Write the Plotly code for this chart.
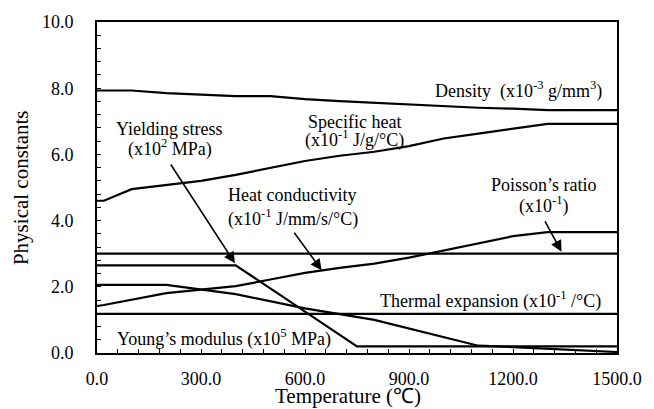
import plotly.graph_objects as go

# Temperature-dependent physical constants of steel
temp_density = [0, 100, 200, 300, 400, 500, 600, 700, 800, 900, 1000, 1100, 1200, 1300, 1500]
density = [7.93, 7.93, 7.85, 7.80, 7.76, 7.76, 7.67, 7.61, 7.56, 7.52, 7.45, 7.41, 7.38, 7.34, 7.34]

temp_heat = [0, 20, 100, 200, 300, 400, 500, 600, 700, 800, 900, 1000, 1100, 1200, 1300, 1500]
specific_heat = [4.60, 4.60, 4.95, 5.08, 5.20, 5.38, 5.60, 5.80, 5.96, 6.08, 6.25, 6.48, 6.63, 6.78, 6.92, 6.92]

temp_cond = [0, 20, 200, 300, 400, 500, 600, 700, 800, 900, 1000, 1100, 1200, 1300, 1500]
conductivity = [1.42, 1.45, 1.81, 1.92, 2.02, 2.22, 2.42, 2.57, 2.70, 2.88, 3.10, 3.32, 3.53, 3.65, 3.65]

temp_poisson = [0, 1500]
poisson = [3.0, 3.0]

temp_yield = [0, 400, 750, 1500]
yield_stress = [2.65, 2.65, 0.20, 0.20]

temp_young = [0, 200, 400, 600, 800, 1100, 1200, 1300, 1400, 1500]
young = [2.06, 2.06, 1.78, 1.35, 1.00, 0.22, 0.18, 0.13, 0.08, 0.03]

temp_expansion = [0, 1500]
expansion = [1.18, 1.18]

x_ticks = [0, 300, 600, 900, 1200, 1500]
y_ticks = [0, 2, 4, 6, 8, 10]

FONT = "Liberation Serif"
LW = 2.2

fig = go.Figure()
series = [
    (temp_density, density),
    (temp_heat, specific_heat),
    (temp_cond, conductivity),
    (temp_poisson, poisson),
    (temp_yield, yield_stress),
    (temp_young, young),
    (temp_expansion, expansion),
]
for xs, ys in series:
    fig.add_trace(go.Scatter(x=xs, y=ys, mode="lines",
                             line=dict(color="black", width=LW),
                             showlegend=False, hoverinfo="skip"))

# Curve labels (one annotation per text line)
labels = [
    ("Density\u00a0\u00a0(x10<sup>-3</sup> g/mm<sup>3</sup>)", 1217, 7.96),
    ("Specific heat", 742, 6.99),
    ("(x10<sup>-1</sup> J/g/°C)", 742, 6.46),
    ("Yielding stress", 210, 6.77),
    ("(x10<sup>2</sup> MPa)", 210, 6.19),
    ("Heat conductivity", 563, 4.76),
    ("(x10<sup>-1</sup> J/mm/s/°C)", 564, 4.09),
    ("Poisson’s ratio", 1290, 5.07),
    ("(x10<sup>-1</sup>)", 1290, 4.46),
    ("Thermal expansion (x10<sup>-1</sup> /°C)", 1136, 1.59),
    ("Young’s modulus (x10<sup>5</sup> MPa)", 366, 0.44),
]
for text, x, y in labels:
    fig.add_annotation(x=x, y=y, text=text, showarrow=False,
                       xanchor="center", yanchor="middle",
                       font=dict(family=FONT, size=18, color="black"))

# Pointer arrows: (tail x, tail y) -> (head x, head y)
arrows = [
    (210, 5.74, 398, 2.71),
    (566, 3.68, 648, 2.50),
    (1290, 4.02, 1340, 3.06),
]
for tx, ty, hx, hy in arrows:
    fig.add_annotation(x=hx, y=hy, ax=tx, ay=ty, axref="x", ayref="y",
                       xref="x", yref="y", text="", showarrow=True,
                       arrowhead=2, arrowsize=1.4, arrowwidth=1.6,
                       arrowcolor="black")

# Axis titles
fig.add_annotation(text="Temperature (℃)", xref="paper", yref="paper",
                   x=0.483, y=-0.13, xanchor="center", yanchor="middle",
                   showarrow=False,
                   font=dict(family=FONT, size=21, color="black"))
fig.add_annotation(text="Physical constants", xref="paper", yref="paper",
                   x=-0.147, y=0.5, xanchor="center", yanchor="middle",
                   textangle=-90, showarrow=False,
                   font=dict(family=FONT, size=21, color="black"))

axis_common = dict(showgrid=False, zeroline=False, showline=True,
                   linecolor="black", linewidth=2, mirror=True,
                   ticks="inside", ticklen=4, tickwidth=1.2, tickcolor="black",
                   tickformat=".1f",
                   tickfont=dict(family=FONT, size=18, color="black"))

fig.update_xaxes(range=[0, 1500], tickvals=x_ticks,
                 minor=dict(dtick=60, tick0=0, ticks="inside", ticklen=4,
                            tickwidth=1.2, tickcolor="black"),
                 ticklabelstandoff=8, **axis_common)
fig.update_yaxes(range=[0, 10], tickvals=y_ticks,
                 minor=dict(dtick=0.4, tick0=0, ticks="inside", ticklen=4,
                            tickwidth=1.2, tickcolor="black"),
                 ticklabelstandoff=18, **axis_common)

fig.update_layout(width=654, height=409,
                  margin=dict(l=97, r=37, t=14, b=56),
                  paper_bgcolor="white", plot_bgcolor="white",
                  font=dict(family=FONT, color="black"))

fig.write_html("out.html")
